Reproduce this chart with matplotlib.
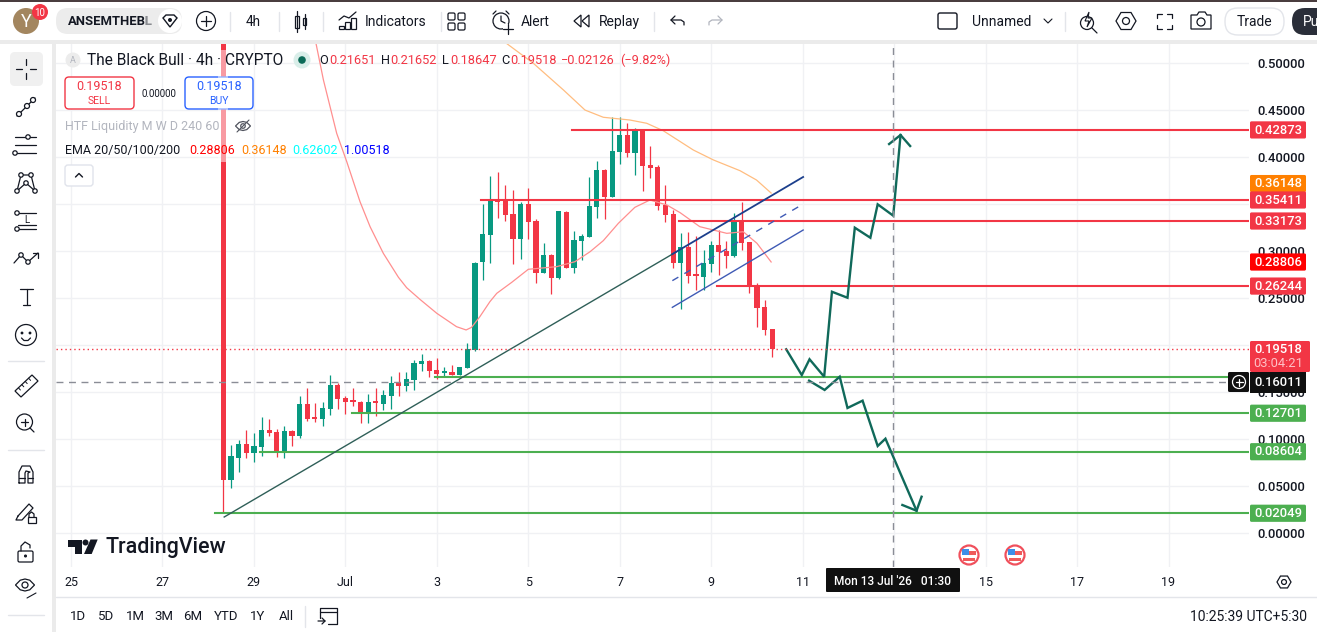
import matplotlib
matplotlib.use('Agg')
import matplotlib.pyplot as plt
from matplotlib.patches import Circle, FancyBboxPatch, Polygon, Rectangle

plt.rcParams['font.family'] = ['Roboto', 'DejaVu Sans']

# --- data ---
opens = [.95, .0559, .0793, .0943, .0847, .0911, .1092, .1070, .0857, .1081, .1028, .1368, .1219, .1209, .1315, .1571,
         .1432, .1400, .1390, .1273, .1390, .1368, .1454, .1592, .1560, .1624, .1794, .1826, .1731, .1699, .1709, .1677,
         .1752, .1944, .2881, .3168, .3552, .3541, .3392, .3126, .3498, .3317, .2764, .2955, .2710, .3413, .2817, .3104,
         .3147, .3466, .3860, .3573, .4052, .4233, .4042, .4286, .3914, .3892, .3488, .3392, .2870, .3040, .2742, .2721,
         .2859, .3062, .2998, .2945, .3317, .3094, .2625, .2401, .21651]
highs = [1.0, .0932, .0985, .1092, .1060, .1230, .1209, .1102, .1134, .1092, .1454, .1539, .1379, .1390, .1677, .1592,
         .1454, .1539, .1400, .1475, .1539, .1518, .1667, .1709, .1709, .1837, .1901, .1837, .1858, .1762, .1784, .1762,
         .2018, .2881, .3498, .3797, .3839, .3701, .3647, .3520, .3669, .3339, .3083, .2966, .3424, .3424, .3211, .3179,
         .3786, .3956, .3871, .4425, .4425, .4361, .4308, .4286, .4116, .3914, .3701, .3434, .3190, .3200, .3158, .3009,
         .3104, .3221, .3104, .3402, .3520, .3094, .2657, .2476, .21652]
lows = [.0204, .0474, .0644, .0793, .0751, .0815, .1028, .0804, .0793, .0921, .1006, .1187, .1177, .1134, .1251, .1315,
        .1262, .1347, .1166, .1166, .1241, .1305, .1315, .1454, .1507, .1518, .1720, .1656, .1635, .1656, .1677, .1677,
        .1752, .1936, .2689, .2870, .3349, .3317, .2859, .2913, .3126, .2657, .2764, .2540, .2700, .2817, .2764, .2902,
        .3147, .3349, .3339, .3573, .3924, .3999, .3807, .3637, .3775, .3434, .3307, .2817, .2380, .2657, .2583, .2583,
        .2774, .2742, .2817, .2934, .3009, .2551, .2188, .2103, .18647]
closes = [.0559, .0815, .0943, .0847, .0921, .1092, .1060, .0857, .1081, .1028, .1368, .1209, .1209, .1326, .1571, .1422,
          .1390, .1390, .1283, .1390, .1379, .1464, .1592, .1560, .1635, .1805, .1826, .1720, .1688, .1709, .1677, .1762,
          .1954, .2870, .3179, .3552, .3520, .3381, .3126, .3498, .3307, .2764, .2955, .2710, .3424, .2817, .3115, .3158,
          .3477, .3860, .3573, .4063, .4233, .4042, .4286, .3903, .3882, .3477, .3381, .2870, .3040, .2732, .2732, .2870,
          .3062, .2987, .2945, .3317, .3083, .2636, .2391, .2157, .19518]

ema20_days = [5.24, 5.36, 5.52, 5.81, 6.03, 6.32, 6.54, 6.83, 7.16, 7.34, 7.63, 8.0, 8.43, 8.64, 8.76, 8.94, 9.16, 9.31,
              9.64, 10.0, 10.62, 11.02, 11.35, 11.64, 11.97, 12.33, 12.66, 13.03, 13.32, 13.75, 14.34, 14.70, 15.0, 15.31]
ema20_vals = [.54, .5202, .4819, .4251, .3949, .3523, .3257, .2973, .2718, .2607, .2483, .2334, .2192, .2157, .2185, .2298,
              .2458, .2547, .2665, .2803, .2831, .2884, .2990, .3108, .3293, .3463, .3541, .3488, .3406, .3257, .3186, .3203,
              .3080, .2881]
ema50_days = [9.40, 9.52, 10.11, 10.77, 11.24, 11.64, 12.22, 12.59, 12.95, 13.61, 14.05, 14.63, 14.99, 15.31]
ema50_vals = [.535, .5210, .4997, .4712, .4499, .4422, .4393, .4358, .4279, .4073, .3967, .3853, .3754, .3615]

red_levels = [.42873, .35411, .33173, .26244]
red_starts = [10.96, 8.97, 13.30, 14.13]
green_levels = [.1658, .12701, .08604, .02049]
green_starts = [7.96, 6.14, 4.13, 3.15]

trend_days = [3.35, 13.23]
trend_vals = [.0165, .2987]
chan_days = [13.15, 16.01]
chan_top = [.2965, .3786]
chan_mid = [.2682, .3498]
chan_low = [.2398, .3221]

up_days = [15.64, 15.98, 16.15, 16.47, 16.64, 16.98, 17.14, 17.48, 17.64, 17.98, 18.14]
up_vals = [.1951, .1677, .1845, .1659, .2564, .2500, .3246, .3139, .3495, .3374, .4233]
up_head_days = [17.89, 18.14, 18.35]
up_head_vals = [.4137, .4233, .4116]
down_days = [16.14, 16.48, 16.81, 16.98, 17.31, 17.64, 17.81, 18.49]
down_vals = [.1617, .1518, .1659, .1326, .1404, .0921, .0999, .0232]
down_head_days = [18.18, 18.49, 18.60]
down_head_vals = [.0293, .0232, .0381]

price_ticks = [0, .05, .1, .15, .2, .25, .3, .35, .4, .45, .5]
price_labels = ['0.00000', '0.05000', '0.10000', '0.15000', '0.20000', '0.25000', '0.30000', '', '0.40000', '0.45000', '0.50000']
day_ticks = [0, 2, 4, 6, 8, 10, 12, 14, 16, 18, 20, 22, 24]
day_labels = ['25', '27', '29', 'Jul', '3', '5', '7', '9', '11', '', '15', '17', '19']

last_price = .19518
cross_price = .16011
cross_day = 17.98

RED = '#f23645'
GREEN = '#089981'
LINE_GREEN = '#4caf50'
INK = '#131722'

X0, PX_DAY = 71, 45.73
Y0, PX_UNIT = 532.5, 939
L, R, T, B = 56, 1249, 44, 567


def py(p):
    return Y0 - PX_UNIT * p


fig = plt.figure(figsize=(13.17, 6.32), dpi=100, facecolor='white')
ax = fig.add_axes([L / 1317, (632 - B) / 632, (R - L) / 1317, (B - T) / 632], zorder=1)
ax.set_xlim((L - X0) / PX_DAY, (R - X0) / PX_DAY)
ax.set_ylim((Y0 - B) / PX_UNIT, (Y0 - T) / PX_UNIT)
for s in ax.spines.values():
    s.set_visible(False)
ax.grid(True, color='#f0f1f4', lw=1)
ax.set_axisbelow(True)
ax.yaxis.tick_right()
ax.set_yticks(price_ticks)
ax.set_yticklabels(price_labels, fontsize=9.4, color=INK, fontweight='medium')
ax.set_xticks(day_ticks)
ax.set_xticklabels(day_labels, fontsize=9, color=INK)
ax.tick_params(length=0)
ax.tick_params(axis='y', pad=6)
ax.tick_params(axis='x', pad=6.2)

# candles
days = [10 / 3 + i / 6 for i in range(len(opens))]
for d, o, h, l, c in zip(days, opens, highs, lows, closes):
    col = GREEN if c >= o else RED
    ax.plot([d, d], [l, h], color=col, lw=0.9, solid_capstyle='butt', zorder=3)
    ax.bar(d, max(abs(c - o), .0022), bottom=min(o, c), width=5.2 / PX_DAY, color=col, lw=0, zorder=3)

# averages
ax.plot(ema20_days, ema20_vals, color='#ff8f8f', lw=0.9, zorder=4)
ax.plot(ema50_days, ema50_vals, color='#ffbd80', lw=0.9, zorder=4)

# drawings
for lev, st in zip(red_levels, red_starts):
    ax.plot([st, 26], [lev, lev], color=RED, lw=1.5, zorder=5)
for lev, st in zip(green_levels, green_starts):
    ax.plot([st, 26], [lev, lev], color=LINE_GREEN, lw=1.5, zorder=5)
ax.plot(trend_days, trend_vals, color='#2f5f58', lw=1, zorder=5)
ax.plot(chan_days, chan_top, color='#1c3f8c', lw=1.3, zorder=5)
ax.plot(chan_days, chan_mid, color='#3f5ab5', lw=1, ls=(0, (5, 5)), zorder=5)
ax.plot(chan_days, chan_low, color='#3f5ab5', lw=1, zorder=5)
for xs, ys in [(up_days, up_vals), (up_head_days, up_head_vals), (down_days, down_vals), (down_head_days, down_head_vals)]:
    ax.plot(xs, ys, color='#10695a', lw=1.7, zorder=6, solid_joinstyle='miter')

ax.axhline(last_price, color=RED, lw=1, ls=(0, (1, 2.2)), zorder=6)
ax.axhline(cross_price, color='#8a8d96', lw=1, ls=(0, (5, 4)), zorder=6)
ax.axvline(cross_day, color='#8a8d96', lw=1, ls=(0, (5, 4)), zorder=6)

# --- everything around the chart, in pixel coordinates ---
ui = fig.add_axes([0, 0, 1, 1], zorder=5)
ui.set_xlim(0, 1317)
ui.set_ylim(632, 0)
ui.axis('off')


def rect(x0, y0, x1, y1, fc='white', ec='none', lw=0, r=0, alpha=None, z=1):
    if r:
        p = FancyBboxPatch((x0, y0), x1 - x0, y1 - y0, boxstyle='round,pad=0,rounding_size=%g' % r,
                           fc=fc, ec=ec, lw=lw, alpha=alpha, zorder=z)
    else:
        p = Rectangle((x0, y0), x1 - x0, y1 - y0, fc=fc, ec=ec, lw=lw, alpha=alpha, zorder=z)
    ui.add_patch(p)


def txt(x, y, s, size=9.5, color=INK, ha='left', weight='normal', z=5):
    ui.text(x, y + 0.8, s, fontsize=size, color=color, ha=ha, va='center', fontweight=weight, zorder=z)


def ln(xs, ys, color=INK, lw=0.9, z=4):
    ui.plot(xs, ys, color=color, lw=lw, zorder=z, solid_capstyle='round')


def circ(x, y, r, fc='none', ec=INK, lw=0.9, z=4):
    ui.add_patch(Circle((x, y), r, fc=fc, ec=ec, lw=lw, zorder=z))


def hexa(x, y, r):
    ui.add_patch(Polygon([(x - r, y), (x - r / 2, y - r * .85), (x + r / 2, y - r * .85), (x + r, y),
                          (x + r / 2, y + r * .85), (x - r / 2, y + r * .85)], fc='none', ec=INK, lw=0.9, zorder=4))
    circ(x, y, r * .35)


def eye(x, y, w, h, color=INK):
    ui.add_patch(Polygon([(x - w, y), (x - w * .5, y - h * .8), (x, y - h), (x + w * .5, y - h * .8), (x + w, y),
                          (x + w * .5, y + h * .8), (x, y + h), (x - w * .5, y + h * .8)],
                         fc='none', ec=color, lw=.9, zorder=4))
    circ(x, y, h * .5, ec=color)


# frame bands
rect(0, 0, 1317, 41)
rect(0, 0, 1317, 2, fc='#4a3d3f', z=2)
rect(0, 40, 1317, 44, fc='#ebebeb', z=2)
rect(0, 44, 52, 632)
rect(52, 40, 56, 632, fc='#ebebeb', z=2)
rect(56, 597, 1317, 632)
ln([56, 1317], [596.5, 596.5], color='#e3e5ea', lw=1, z=2)

# top bar
circ(26, 21, 13, fc='#a3865f', ec='none')
txt(26, 21, 'Y', size=13, color='white', ha='center')
circ(40, 12, 8, fc=RED, ec='none', z=5)
txt(40, 12, '10', size=7, color='white', ha='center', z=6)
rect(56, 8, 182, 34, fc='#ececec', r=12)
txt(68, 21, 'ANSEMTHEBL', size=9.4, weight='bold')
rect(146, 12, 157, 30, fc='#ececec', alpha=.55, z=6)
circ(170, 21, 12, fc='white', ec='none', z=6)
ui.add_patch(Polygon([(163, 18), (166, 15), (174, 15), (177, 18), (170, 27)], fc='none', ec=INK, lw=1, zorder=7))
circ(170, 20, 2, fc=INK, ec='none', z=7)
circ(206, 21, 9.5)
ln([201, 211], [21, 21])
ln([206, 206], [16, 26])
txt(253, 21, '4h', ha='center', size=9.8)
for sx in [230, 279, 323, 441, 654]:
    ln([sx, sx], [12, 31], color='#e3e5ea', lw=1)
rect(295, 16, 299, 28, fc='none', ec=INK, lw=.9)
rect(303, 18, 306, 25, fc='none', ec=INK, lw=.9)
ln([297, 297], [11, 32])
ln([304.5, 304.5], [14, 29])
for bx, bt in [(339, 26), (345, 22), (351, 18)]:
    rect(bx, bt, bx + 5, 29, fc='none', ec=INK, lw=.9)
ln([339, 344, 349, 356], [20, 16, 18, 12])
txt(365, 21, 'Indicators', size=10)
for gx, gy in [(448, 13), (458, 13), (448, 23), (458, 23)]:
    rect(gx, gy, gx + 7, gy + 7, fc='none', ec=INK, lw=.9, r=1.5)
circ(501, 21, 8)
ln([501, 501, 505], [16, 21, 23])
ln([493, 496], [14, 11])
ln([509, 506], [14, 11])
ui.add_patch(Rectangle((503, 24), 10, 10, fc='white', ec='none', zorder=4.5))
ln([503, 513], [29, 29], z=5)
ln([508, 508], [24, 34], z=5)
txt(521, 21, 'Alert', size=10)
ui.add_patch(Polygon([(581, 15), (574, 21), (581, 27)], fc='none', ec=INK, lw=.9, zorder=4))
ui.add_patch(Polygon([(589, 15), (582, 21), (589, 27)], fc='none', ec=INK, lw=.9, zorder=4))
txt(599, 21, 'Replay', size=10)
ln([675, 671, 675], [16, 20, 24])
ln([671, 681, 684, 684], [20, 20, 22, 25])
ln([718, 722, 718], [16, 20, 24], color='#b2b5be')
ln([722, 712, 709, 709], [20, 20, 22, 25], color='#b2b5be')
rect(938, 13, 957, 29, fc='none', ec=INK, lw=1, r=2)
txt(972, 21, 'Unnamed', size=10)
ln([1044, 1048, 1052], [19, 23, 19], lw=.8)
ln([1064.5, 1064.5], [12, 31], color='#e3e5ea', lw=1)
circ(1087, 23, 6.5)
ln([1092, 1097], [28, 33])
ui.add_patch(Polygon([(1089, 12), (1085, 21), (1089, 21), (1087, 27), (1092, 18), (1088, 18)], fc='white', ec=INK, lw=.8, zorder=5))
hexa(1126, 21, 10)
ln([1162, 1157, 1157], [14, 14, 18])
ln([1167, 1172, 1172], [14, 14, 18])
ln([1162, 1157, 1157], [29, 29, 25])
ln([1167, 1172, 1172], [29, 29, 25])
ui.add_patch(Polygon([(1191, 15), (1197, 15), (1199, 12), (1205, 12), (1207, 15), (1211, 15), (1211, 29), (1191, 29)], fc='none', ec=INK, lw=.9, zorder=4))
circ(1201, 22, 4)
rect(1225, 8, 1284, 35, fc='white', ec='#e3e5ea', lw=1, r=13)
txt(1254.5, 21, 'Trade', ha='center', size=10)
rect(1292, 8, 1340, 35, fc='#2a2e39', r=13)
txt(1303, 21, 'Pu', size=10, color='white')

# left toolbar
rect(10, 52, 43, 86, fc='#f0f0f0', r=5)
ln([26, 26], [59, 65])
ln([26, 26], [73, 79])
ln([16, 22], [69, 69])
ln([30, 36], [69, 69])
ln([17, 35], [116, 98])
circ(19, 114, 2.5, fc='white', z=5)
circ(27, 106, 2.5, fc='white', z=5)
circ(33, 100, 2.5, fc='white', z=5)
for fy in [137, 145, 153]:
    ln([15, 36], [fy, fy])
circ(28, 137, 2.2, fc='white', z=5)
circ(15, 153, 2.2, fc='white', z=5)
ui.add_patch(Polygon([(17, 191), (21, 175), (31, 175), (35, 191), (26, 183)], fc='none', ec=INK, lw=.9, zorder=4))
for hx, hy in [(17, 191), (21, 175), (31, 175), (35, 191), (26, 183)]:
    circ(hx, hy, 2.2, fc='white', z=5)
ln([18, 36], [213, 213])
ln([18, 36], [225, 225])
ln([18, 36], [229, 229])
txt(26.5, 219, 'L', size=7, ha='center')
circ(17, 213, 2.2, fc='white', z=5)
circ(17, 229, 2.2, fc='white', z=5)
ln([14, 21, 28, 38], [263, 255, 262, 253])
ln([33, 38, 38], [253, 253, 258])
circ(21, 255, 2.2, fc='white', z=5)
circ(28, 262, 2.2, fc='white', z=5)
ln([20, 33], [289, 289])
ln([26.5, 26.5], [289, 305])
ln([23, 30], [305, 305])
circ(26, 335, 10.5)
circ(22, 333, .8, fc=INK)
circ(30, 333, .8, fc=INK)
ln([21.5, 24, 28, 30.5], [338, 340.5, 340.5, 338])
ln([8, 44], [360.5, 360.5], color='#e3e5ea', lw=1)
ui.add_patch(Polygon([(15, 391), (32, 375), (38, 381), (21, 397)], fc='none', ec=INK, lw=.9, zorder=4))
for k in range(1, 5):
    tx, ty = 15 + k * 3.4, 391 - k * 3.2
    ln([tx, tx + 2], [ty, ty + 2.2], lw=.7)
circ(24.5, 422, 8)
ln([21, 28], [422, 422])
ln([24.5, 24.5], [418.5, 425.5])
ln([30, 34], [428, 432])
ln([8, 44], [449.5, 449.5], color='#e3e5ea', lw=1)
ln([19, 19, 22, 30, 33, 33, 28, 28, 30, 26, 25, 25, 19], [483, 472, 466, 466, 472, 483, 483, 473, 472, 471, 473, 483, 483])
ln([19, 25], [478, 478])
ln([28, 33], [478, 478])
ln([18, 29, 33, 22, 16, 18], [516, 504, 508, 520, 520, 516])
rect(27.5, 517, 35.5, 523, fc='white', ec=INK, lw=.9, z=5)
ln([29, 29, 31.5, 34, 34], [517, 514, 512, 514, 517], z=5)
rect(18, 551, 33, 562, fc='none', ec=INK, lw=.9, r=1.5)
ln([21, 21, 25, 30, 30], [551, 546, 542, 545, 548])
circ(25.5, 556, .9, fc=INK)
eye(25, 585, 9.5, 6)
ln([27, 36], [598, 593], lw=.8)
ln([8, 44], [614.5, 614.5], color='#e3e5ea', lw=1)

# legend block
circ(73, 60, 7.5, fc='#ececec', ec='none')
txt(73, 60, 'A', size=6.5, color='#b2b5be', ha='center')
txt(87, 60, 'The Black Bull · 4h · CRYPTO', size=11.2)
circ(302, 60, 8.5, fc='#d9eee9', ec='none')
circ(302, 60, 3.8, fc='#0c6b58', ec='none')
for x, lab, val in [(319, 'O', '0.21651'), (381, 'H', '0.21652'), (442, 'L', '0.18647'), (501, 'C', '0.19518')]:
    txt(x, 60, lab, size=9.2)
    txt(x + (8 if lab == 'L' else 10 if lab == 'O' else 9), 60, val, size=9.2, color=RED)
txt(561, 60, '−0.02126', size=9.2, color=RED)
txt(620, 60, '(−9.82%)', size=9.2, color=RED)
rect(65, 77, 134, 109, ec=RED, lw=1, r=4)
txt(99.5, 86, '0.19518', size=9, color=RED, ha='center')
txt(99.5, 100, 'SELL', size=7.5, color=RED, ha='center')
txt(159, 93, '0.00000', size=7, ha='center')
rect(185, 77, 253, 109, ec='#2962ff', lw=1, r=4)
txt(219, 86, '0.19518', size=9, color='#2962ff', ha='center')
txt(219, 100, 'BUY', size=7.5, color='#2962ff', ha='center')
rect(218, 50, 228, 162, alpha=.5, z=2)
txt(65, 126, 'HTF Liquidity M W D 240 60', size=9, color='#b2b5be')
eye(243, 126, 7.5, 4.5, color='#50535e')
ln([237, 249], [132, 120], color='#50535e', lw=.8)
txt(65, 150, 'EMA 20/50/100/200', size=9)
for x, s, c in [(189, '0.28806', '#ff0000'), (241, '0.36148', '#ff8000'), (292, '0.62602', '#00ffff'), (344, '1.00518', '#0000ff')]:
    txt(x, 150, s, size=9, color=c)
rect(65, 165, 93, 186, ec='#e0e3eb', lw=1, r=3)
ln([75.5, 79, 82.5], [177, 173.5, 177], lw=1)

# logo
ui.add_patch(Polygon([(68, 539.5), (81.7, 539.5), (81.7, 554), (74.7, 554), (74.7, 546.5), (68, 546.5)], fc=INK, ec='none', zorder=4))
circ(85.5, 542.5, 3, fc=INK, ec='none')
ui.add_patch(Polygon([(90.5, 539.5), (97.7, 539.5), (91.7, 554), (84, 554)], fc=INK, ec='none', zorder=4))
txt(105, 546.5, 'TradingView', size=15.5, weight='medium')

# flags
for fx in [969, 1015]:
    circ(fx, 555, 9.5, fc='white', ec='#f0505c', lw=1.6)
    rect(fx - 7, 551, fx + 7, 555, fc='#ef5a5a', z=5)
    rect(fx - 6, 558, fx + 6, 561, fc='#ef5a5a', z=5)
    rect(fx - 7, 549, fx, 555, fc='#3d8ee8', z=6)

# price labels, the orange one pushed up clear of 0.35411 as in the screenshot
for p, c, shift in [(.42873, RED, 0), (.36148, '#ff8000', -9.5), (.35411, RED, 0), (.33173, RED, 0), (.28806, '#ff0000', 0),
                    (.26244, RED, 0), (.12701, LINE_GREEN, 0), (.08604, LINE_GREEN, 0), (.02049, LINE_GREEN, 0)]:
    yc = py(p) + shift
    rect(1250, yc - 8.6, 1306, yc + 8.6, fc=c, r=1.5, z=6)
    txt(1278, yc - .6, '%.5f' % p, size=9.4, color='white', ha='center', weight='medium', z=7)
rect(1250, 341, 1310, 372, fc=RED, r=1.5, z=6)
txt(1278, 349, '%.5f' % last_price, size=9.4, color='white', ha='center', weight='medium', z=7)
txt(1278, 363, '03:04:21', size=9.4, color='#ffc0c5', ha='center', z=7)
rect(1250, 372, 1306, 393, fc='#101010', z=6)
txt(1278, py(cross_price), '%.5f' % cross_price, size=9.4, color='white', ha='center', weight='medium', z=7)
rect(1228, 372, 1249, 392, fc='#101010', r=1.5, z=6)
circ(1239, 382, 6.5, ec='white', z=7)
ln([1235.5, 1242.5], [382, 382], color='white', z=7)
ln([1239, 1239], [378.5, 385.5], color='white', z=7)

# time axis bits
rect(826, 568, 960, 592, fc='#101010', r=1, z=6)
txt(892, 581, "Mon 13 Jul '26   01:30", size=8.6, color='white', ha='center', weight='medium', z=7)
hexa(1284, 582, 7)

# bottom bar
for x, s in zip([78, 106, 135, 164, 193, 226, 258, 286], ['1D', '5D', '1M', '3M', '6M', 'YTD', '1Y', 'All']):
    txt(x, 616, s, size=9.5, ha='center')
ln([304.5, 304.5], [606, 627], color='#e3e5ea', lw=1)
ln([320, 320, 337, 337, 328], [618, 608, 608, 624, 624])
ln([320, 337], [612, 612])
ln([318, 325, 322], [621, 621, 618])
ln([325, 322], [621, 624])
txt(1307, 616, '10:25:39 UTC+5:30', size=10, ha='right')

fig.savefig('out.png', dpi=100)
